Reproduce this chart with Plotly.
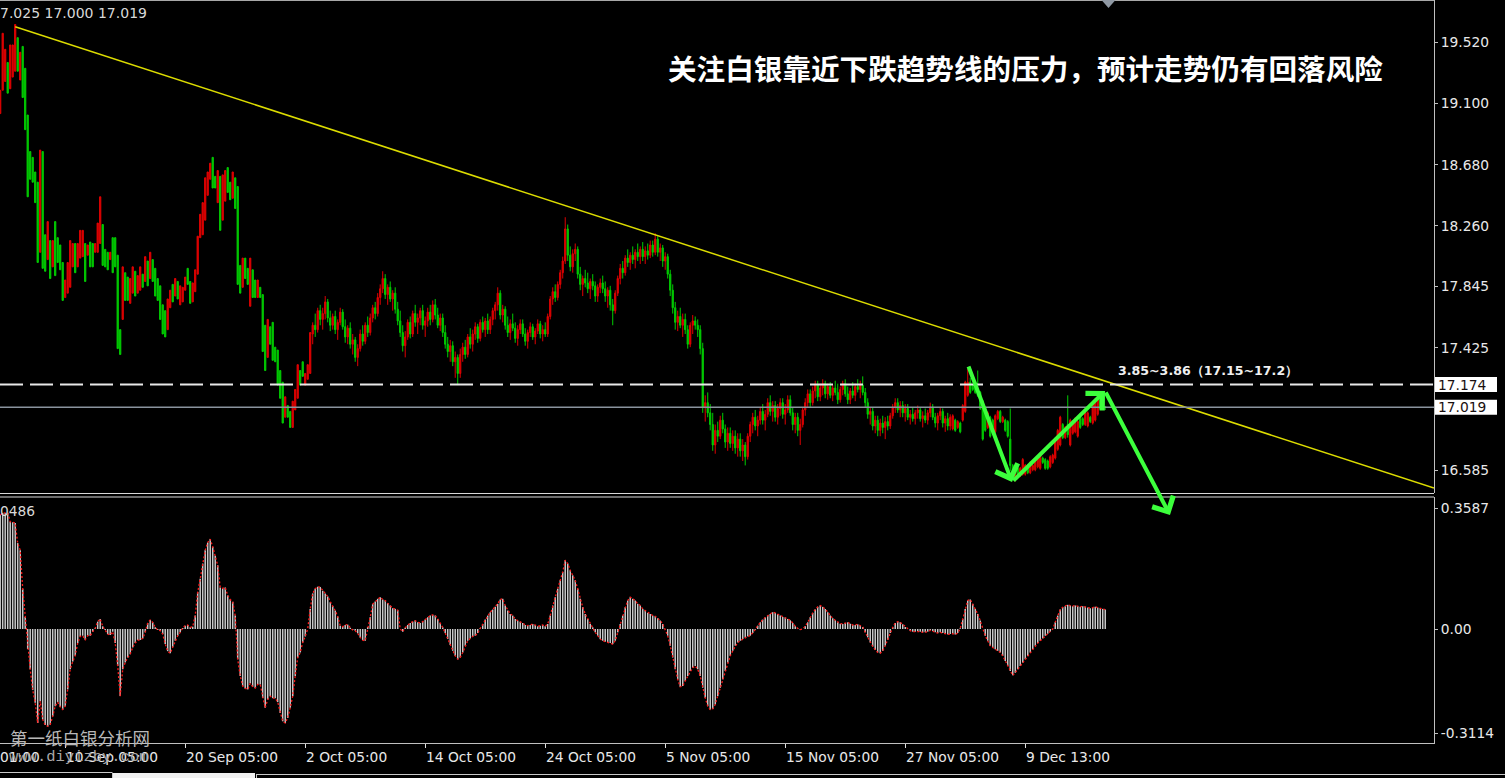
import plotly.graph_objects as go

# ---------------- data ----------------
opens = [
19.03,19.19,19.25,19.38,19.20,19.28,19.32,19.55,19.26,19.49,
19.34,19.02,18.77,18.73,18.63,18.56,18.08,18.77,18.20,18.03,
18.16,17.98,18.29,18.18,18.13,18.01,17.77,17.80,17.84,17.98,
18.14,17.98,18.04,18.05,18.14,18.06,18.15,18.14,18.08,18.08,
18.14,18.27,18.10,18.08,18.03,18.18,18.18,18.06,17.55,17.62,
17.94,17.91,17.73,17.80,17.95,17.80,17.82,17.93,17.88,18.02,
17.90,18.03,17.97,17.90,17.85,17.72,17.68,17.55,17.70,17.86,
17.78,17.88,17.72,17.74,17.82,17.97,17.88,17.74,17.81,17.93,
18.18,18.20,18.30,18.47,18.58,18.73,18.60,18.42,18.60,18.30,
18.43,18.66,18.56,18.45,18.59,18.53,17.99,17.84,18.04,17.97,
17.71,17.96,17.89,17.77,17.84,17.79,17.58,17.36,17.57,17.60,
17.43,17.41,17.27,17.19,16.95,17.03,16.99,16.88,17.00,17.08,
17.27,17.33,17.17,17.21,17.25,
17.52,17.58,17.55,17.68,17.62,17.66,17.74,17.63,17.58,17.64,
17.55,17.60,17.67,17.57,17.50,17.56,17.45,17.48,17.36,17.42,
17.52,17.47,17.58,17.53,17.63,17.70,17.66,17.77,17.83,17.90,
17.79,17.84,17.76,17.80,17.69,17.61,17.53,17.44,17.50,17.60,
17.52,17.66,17.60,17.63,17.68,17.58,17.61,17.67,17.62,17.72,
17.65,17.58,17.63,17.53,17.45,17.40,17.44,17.33,17.36,17.25,
17.38,17.43,17.38,17.50,17.45,17.52,17.57,17.49,17.60,17.55,
17.61,17.55,17.62,17.68,17.72,17.80,17.65,17.69,17.58,17.53,
17.59,17.56,17.49,17.55,17.59,17.52,17.47,17.53,17.57,17.50,
17.54,17.59,17.52,17.55,17.52,17.64,17.76,17.81,17.77,17.86,
17.94,18.02,18.24,18.06,17.98,18.07,18.10,17.93,17.86,17.90,
17.87,17.83,17.88,17.85,17.78,17.84,17.87,17.83,17.78,17.82,
17.72,17.68,17.80,17.90,17.97,17.94,18.04,18.01,18.06,18.03,
18.08,18.05,18.10,18.05,18.09,18.06,18.13,18.08,18.17,18.08,
18.11,18.02,18.05,17.93,17.82,17.70,17.60,17.64,17.58,17.62,
17.55,17.45,17.58,17.61,17.58,17.55,17.42,17.02,17.05,16.98,
16.90,16.76,16.86,16.82,16.93,16.87,16.78,16.84,16.77,16.82,
16.74,16.80,16.72,16.76,16.68,16.82,16.90,16.95,16.89,16.93,
16.99,16.93,16.97,17.05,16.99,17.03,16.95,17.01,17.05,16.97,
17.00,17.07,16.98,16.90,16.95,16.86,16.90,17.00,17.05,17.11,
17.05,17.13,17.17,17.09,17.15,17.18,17.11,17.16,17.10,17.15,
17.12,17.07,17.14,17.18,17.11,17.07,17.13,17.10,17.16,17.14,
17.17,17.12,17.05,16.97,16.99,16.89,16.93,16.86,16.91,16.88,
16.92,16.89,16.96,17.02,17.05,17.00,17.03,16.98,17.01,16.95,
16.97,16.94,16.98,17.00,16.94,16.96,16.93,16.98,17.02,16.95,
16.91,16.96,16.99,16.91,16.94,16.89,
16.87,16.93,16.88,16.91,16.93,16.99,17.10,17.19,17.17,17.18,
17.14,17.12,17.06,17.01,16.88,16.95,16.93,16.85,16.94,16.99,
16.92,16.93,16.92,16.80,16.62,16.52,16.60,16.55,16.56,16.56,
16.61,16.57,16.59,16.59,16.61,16.60,16.67,16.66,16.65,16.61,
16.64,16.67,16.73,16.76,16.90,16.81,16.90,16.76,16.84,16.85,
16.82,16.97,16.94,16.90,16.89,16.95,16.91,16.93,16.97,17.10,17.05,17.024]

highs = [
19.19,19.58,19.47,19.38,19.50,19.50,19.64,19.55,19.45,19.49,
19.34,19.02,18.77,18.73,18.63,18.56,18.78,18.77,18.20,18.29,
18.16,18.16,18.29,18.18,18.13,18.01,17.89,18.01,18.16,18.14,
18.14,18.14,18.23,18.23,18.14,18.13,18.15,18.14,18.14,18.28,
18.46,18.27,18.10,18.08,18.08,18.18,18.18,18.06,17.55,17.98,
17.94,17.91,17.90,17.98,17.95,17.92,17.98,17.93,18.05,18.02,
18.08,18.03,17.97,17.90,17.85,17.72,17.68,17.76,17.82,17.86,
17.90,17.88,17.85,17.84,17.91,17.97,17.88,17.87,17.96,18.19,
18.34,18.42,18.59,18.63,18.69,18.73,18.60,18.64,18.60,18.61,
18.64,18.66,18.56,18.63,18.59,18.53,17.99,18.04,18.04,17.97,
18.04,17.96,17.89,17.89,17.84,17.79,17.58,17.62,17.57,17.60,
17.43,17.41,17.27,17.19,17.09,17.03,16.99,17.06,17.14,17.31,
17.27,17.33,17.25,17.31,17.53,
17.60,17.66,17.70,17.72,17.70,17.78,17.76,17.68,17.66,17.68,
17.62,17.70,17.69,17.62,17.58,17.60,17.52,17.50,17.45,17.55,
17.58,17.60,17.64,17.66,17.72,17.74,17.80,17.86,17.95,17.93,
17.86,17.88,17.82,17.84,17.74,17.68,17.58,17.54,17.62,17.64,
17.68,17.72,17.66,17.70,17.72,17.64,17.70,17.72,17.75,17.76,
17.70,17.66,17.66,17.58,17.50,17.48,17.47,17.40,17.38,17.42,
17.46,17.48,17.52,17.56,17.55,17.60,17.59,17.62,17.64,17.63,
17.66,17.64,17.70,17.74,17.84,17.82,17.72,17.71,17.64,17.62,
17.66,17.60,17.58,17.62,17.62,17.56,17.55,17.60,17.59,17.56,
17.62,17.61,17.58,17.60,17.66,17.78,17.84,17.86,17.88,17.96,
18.05,18.32,18.27,18.12,18.10,18.14,18.12,17.98,17.92,17.96,
17.94,17.90,17.93,17.88,17.86,17.90,17.92,17.88,17.84,17.85,
17.76,17.82,17.92,18.00,18.02,18.06,18.10,18.08,18.12,18.10,
18.14,18.12,18.15,18.12,18.14,18.16,18.16,18.21,18.19,18.14,
18.13,18.08,18.07,17.96,17.86,17.74,17.68,17.70,17.66,17.66,
17.58,17.60,17.65,17.64,17.62,17.58,17.46,17.10,17.12,17.04,
16.98,16.90,16.92,16.96,16.98,16.90,16.88,16.88,16.86,16.86,
16.84,16.84,16.80,16.78,16.84,16.92,16.98,17.00,16.96,17.02,
17.04,17.00,17.08,17.10,17.06,17.06,17.04,17.08,17.08,17.04,
17.10,17.10,17.02,16.98,16.98,16.94,17.02,17.08,17.14,17.14,
17.16,17.20,17.20,17.18,17.21,17.20,17.18,17.19,17.17,17.20,
17.18,17.16,17.20,17.21,17.16,17.15,17.19,17.18,17.21,17.20,
17.23,17.15,17.08,17.02,17.02,16.96,16.96,16.94,16.96,16.95,
16.96,16.98,17.04,17.08,17.08,17.06,17.06,17.04,17.04,17.00,
17.02,17.00,17.03,17.02,16.99,17.01,17.00,17.05,17.04,16.98,
16.98,17.02,17.01,16.96,16.98,16.97,
16.97,16.94,16.93,16.92,17.04,17.20,17.28,17.22,17.18,17.20,
17.27,17.13,17.07,17.02,16.99,16.96,16.94,16.97,17.00,17.00,
16.96,16.94,16.93,17.01,16.63,16.61,16.61,16.61,16.67,16.63,
16.62,16.65,16.63,16.67,16.69,16.70,16.68,16.67,16.66,16.69,
16.70,16.81,16.87,16.96,16.91,16.89,17.10,16.94,16.93,16.95,
16.93,16.98,16.95,17.00,16.99,16.96,17.06,17.08,17.10,17.11,17.06,17.025]

lows = [
19.03,19.19,19.25,19.17,19.20,19.28,19.32,19.32,19.26,19.14,
18.92,18.46,18.58,18.56,18.42,18.01,18.08,17.97,17.95,18.03,
17.90,17.98,17.92,18.01,17.96,17.75,17.77,17.80,17.84,17.98,
17.94,17.98,18.04,18.05,17.88,18.06,17.98,17.98,18.08,18.08,
18.14,17.99,17.98,17.96,18.03,17.94,17.98,17.42,17.38,17.62,
17.75,17.75,17.73,17.80,17.78,17.80,17.82,17.84,17.88,17.85,
17.90,17.88,17.78,17.75,17.62,17.52,17.50,17.55,17.70,17.74,
17.78,17.76,17.72,17.74,17.82,17.86,17.73,17.74,17.81,17.93,
18.18,18.20,18.30,18.47,18.58,18.52,18.52,18.42,18.23,18.30,
18.43,18.49,18.44,18.45,18.38,17.86,17.80,17.84,17.90,17.86,
17.71,17.77,17.77,17.77,17.77,17.40,17.27,17.36,17.45,17.34,
17.33,17.17,17.08,16.91,16.95,16.95,16.88,16.88,17.00,17.08,
17.17,17.23,17.17,17.21,17.25,
17.45,17.50,17.53,17.58,17.55,17.62,17.60,17.54,17.55,17.52,
17.48,17.58,17.55,17.46,17.45,17.42,17.38,17.33,17.30,17.40,
17.44,17.45,17.50,17.51,17.60,17.62,17.64,17.72,17.80,17.76,
17.72,17.74,17.68,17.66,17.58,17.50,17.40,17.36,17.48,17.49,
17.50,17.57,17.52,17.58,17.55,17.50,17.57,17.58,17.60,17.62,
17.56,17.54,17.50,17.42,17.36,17.33,17.30,17.22,17.17,17.22,
17.33,17.35,17.36,17.42,17.40,17.48,17.46,17.47,17.53,17.50,
17.52,17.52,17.58,17.62,17.68,17.62,17.60,17.55,17.50,17.48,
17.54,17.46,17.44,17.52,17.50,17.44,17.42,17.50,17.48,17.45,
17.52,17.49,17.47,17.50,17.50,17.62,17.72,17.74,17.75,17.83,
17.90,18.00,18.02,17.95,17.94,18.02,17.90,17.82,17.78,17.84,
17.80,17.76,17.82,17.74,17.74,17.80,17.80,17.74,17.70,17.68,
17.58,17.66,17.78,17.86,17.90,17.92,17.98,17.96,18.00,17.97,
18.02,18.00,18.02,18.00,18.03,18.04,18.05,18.06,18.05,18.02,
17.98,17.96,17.90,17.78,17.66,17.55,17.54,17.56,17.50,17.52,
17.42,17.43,17.52,17.55,17.50,17.38,16.98,16.92,16.95,16.86,
16.72,16.70,16.78,16.80,16.84,16.74,16.72,16.74,16.72,16.70,
16.68,16.68,16.65,16.62,16.66,16.78,16.84,16.86,16.82,16.90,
16.90,16.86,16.95,16.96,16.92,16.92,16.90,16.96,16.94,16.90,
16.98,16.96,16.86,16.84,16.82,16.76,16.88,16.96,17.02,17.02,
17.03,17.08,17.06,17.06,17.10,17.08,17.07,17.08,17.06,17.10,
17.04,17.05,17.10,17.09,17.04,17.04,17.08,17.06,17.12,17.08,
17.10,17.02,16.94,16.90,16.86,16.84,16.82,16.82,16.84,16.80,
16.86,16.87,16.94,16.98,16.98,16.95,16.95,16.92,16.93,16.90,
16.92,16.90,16.94,16.92,16.88,16.91,16.90,16.95,16.93,16.88,
16.86,16.93,16.88,16.85,16.86,16.86,
16.86,16.85,16.87,16.84,16.92,16.98,17.09,17.11,17.13,17.11,
17.09,17.00,16.79,16.85,16.87,16.81,16.87,16.84,16.93,16.91,
16.91,16.85,16.81,16.58,16.54,16.51,16.55,16.54,16.55,16.55,
16.56,16.56,16.58,16.58,16.60,16.59,16.63,16.59,16.59,16.60,
16.63,16.66,16.72,16.75,16.80,16.80,16.81,16.75,16.83,16.84,
16.81,16.87,16.89,16.89,16.88,16.91,16.90,16.92,16.96,17.00,17.01,17.000]

closes = [
19.19,19.58,19.47,19.17,19.50,19.50,19.64,19.32,19.45,19.14,
18.92,18.46,18.58,18.56,18.42,18.01,18.78,17.97,17.95,18.29,
17.90,18.16,17.92,18.01,17.96,17.75,17.89,18.01,18.16,18.14,
17.94,18.14,18.23,18.23,17.88,18.13,17.98,17.98,18.14,18.28,
18.46,17.99,17.98,17.96,18.08,17.94,17.98,17.42,17.38,17.98,
17.75,17.75,17.90,17.98,17.78,17.92,17.98,17.84,18.05,17.85,
18.08,17.88,17.78,17.75,17.62,17.52,17.50,17.76,17.82,17.74,
17.90,17.76,17.85,17.84,17.91,17.86,17.73,17.87,17.96,18.19,
18.34,18.42,18.59,18.63,18.69,18.52,18.52,18.64,18.23,18.61,
18.64,18.49,18.44,18.63,18.38,17.86,17.80,18.04,17.90,17.86,
18.04,17.77,17.77,17.89,17.77,17.40,17.27,17.62,17.45,17.34,
17.33,17.17,17.08,16.91,17.09,16.95,16.88,17.06,17.14,17.31,
17.17,17.23,17.25,17.31,17.53,
17.58,17.55,17.68,17.62,17.66,17.74,17.63,17.58,17.64,17.55,
17.60,17.67,17.57,17.50,17.56,17.45,17.48,17.36,17.42,17.52,
17.47,17.58,17.53,17.63,17.70,17.66,17.77,17.83,17.90,17.79,
17.84,17.76,17.80,17.69,17.61,17.53,17.44,17.50,17.60,17.52,
17.66,17.60,17.63,17.68,17.58,17.61,17.67,17.62,17.72,17.65,
17.58,17.63,17.53,17.45,17.40,17.44,17.33,17.36,17.25,17.38,
17.43,17.38,17.50,17.45,17.52,17.57,17.49,17.60,17.55,17.61,
17.55,17.62,17.68,17.72,17.80,17.65,17.69,17.58,17.53,17.59,
17.56,17.49,17.55,17.59,17.52,17.47,17.53,17.57,17.50,17.54,
17.59,17.52,17.55,17.52,17.64,17.76,17.81,17.77,17.86,17.94,
18.02,18.24,18.06,17.98,18.07,18.10,17.93,17.86,17.90,17.87,
17.83,17.88,17.85,17.78,17.84,17.87,17.83,17.78,17.82,17.72,
17.68,17.80,17.90,17.97,17.94,18.04,18.01,18.06,18.03,18.08,
18.05,18.10,18.05,18.09,18.06,18.13,18.08,18.17,18.08,18.11,
18.02,18.05,17.93,17.82,17.70,17.60,17.64,17.58,17.62,17.55,
17.45,17.58,17.61,17.58,17.55,17.42,17.02,17.05,16.98,16.90,
16.76,16.86,16.82,16.93,16.87,16.78,16.84,16.77,16.82,16.74,
16.80,16.72,16.76,16.68,16.82,16.90,16.95,16.89,16.93,16.99,
16.93,16.97,17.05,16.99,17.03,16.95,17.01,17.05,16.97,17.00,
17.07,16.98,16.90,16.95,16.86,16.90,17.00,17.05,17.11,17.05,
17.13,17.17,17.09,17.15,17.18,17.11,17.16,17.10,17.15,17.12,
17.07,17.14,17.18,17.11,17.07,17.13,17.10,17.16,17.14,17.17,
17.12,17.05,16.97,16.99,16.89,16.93,16.86,16.91,16.88,16.92,
16.89,16.96,17.02,17.05,17.00,17.03,16.98,17.01,16.95,16.97,
16.94,16.98,17.00,16.94,16.96,16.93,16.98,17.02,16.95,16.91,
16.96,16.99,16.91,16.94,16.89,16.95,
16.96,16.86,16.92,16.85,17.03,17.19,17.19,17.12,17.14,17.12,
17.10,17.01,16.80,16.86,16.98,16.82,16.88,16.96,16.99,16.92,
16.95,16.86,16.82,16.62,16.55,16.60,16.56,16.60,16.66,16.62,
16.57,16.64,16.62,16.66,16.68,16.69,16.64,16.60,16.60,16.68,
16.69,16.80,16.86,16.95,16.81,16.88,16.83,16.93,16.92,16.94,
16.92,16.88,16.90,16.99,16.98,16.92,17.05,17.07,17.09,17.01,17.02,17.019]

macd = [
0.34,0.345,0.346,0.346,0.32,0.318,0.316,0.256,0.235,0.12,
0.036,-0.06,-0.12,-0.182,-0.22,-0.28,-0.215,-0.27,-0.286,-0.29,
-0.285,-0.26,-0.23,-0.218,-0.232,-0.24,-0.23,-0.18,-0.12,-0.097,
-0.08,-0.042,-0.022,-0.02,-0.032,-0.02,-0.02,-0.008,0.002,0.022,
0.03,0.008,-0.003,-0.015,-0.018,-0.008,-0.042,-0.11,-0.2,-0.12,
-0.1,-0.085,-0.075,-0.055,-0.042,-0.033,-0.033,-0.028,-0.01,0.018,
0.027,0.02,0.005,-0.003,-0.005,-0.015,-0.045,-0.066,-0.072,-0.053,
-0.035,-0.02,-0.01,0.003,0.01,0.012,0.005,0.007,0.04,0.11,
0.15,0.195,0.235,0.258,0.268,0.245,0.218,0.19,0.124,0.121,
0.124,0.1,0.088,0.081,0.04,-0.09,-0.14,-0.17,-0.177,-0.18,
-0.162,-0.172,-0.176,-0.165,-0.165,-0.205,-0.235,-0.21,-0.2,-0.206,
-0.206,-0.218,-0.25,-0.275,-0.28,-0.265,-0.235,-0.2,-0.14,-0.085,
-0.07,-0.04,-0.022,0.0,0.06,0.106,0.12,0.126,0.125,0.114,
0.106,0.097,0.08,0.068,0.055,0.037,0.01,0.007,0.012,0.013,
0.004,-0.003,-0.005,-0.013,-0.025,-0.033,-0.035,0.006,0.035,0.074,
0.082,0.09,0.095,0.088,0.085,0.077,0.07,0.062,0.06,0.056,
0.0,
-0.008,0.004,0.012,0.018,0.022,0.025,0.02,0.018,0.022,0.028,
0.035,0.04,0.042,0.04,0.03,0.018,0.005,-0.012,-0.03,-0.048,
-0.065,-0.08,-0.09,-0.085,-0.07,-0.05,-0.035,-0.028,-0.022,-0.02,
-0.012,0.002,0.015,0.028,0.04,0.05,0.058,0.066,0.075,0.088,
0.09,0.07,0.055,0.045,0.04,0.03,0.025,0.022,0.018,0.012,
0.01,0.012,0.015,0.012,0.008,0.01,0.012,0.008,0.015,0.04,
0.07,0.095,0.12,0.145,0.17,0.205,0.195,0.175,0.16,0.145,
0.12,0.09,0.065,0.045,0.03,0.015,0.005,-0.01,-0.02,-0.03,
-0.035,-0.038,-0.04,-0.042,-0.045,-0.035,-0.01,0.015,0.04,0.065,
0.085,0.095,0.09,0.085,0.075,0.07,0.06,0.055,0.048,0.045,
0.04,0.038,0.032,0.025,0.015,0.0,-0.02,-0.05,-0.085,-0.12,
-0.15,-0.172,-0.17,-0.155,-0.14,-0.125,-0.115,-0.11,-0.12,-0.14,
-0.175,-0.205,-0.23,-0.24,-0.238,-0.225,-0.2,-0.175,-0.15,-0.125,
-0.1,-0.08,-0.065,-0.05,-0.04,-0.035,-0.03,-0.025,-0.022,-0.02,
-0.012,-0.002,0.01,0.02,0.028,0.034,0.04,0.045,0.05,0.048,
0.044,0.04,0.036,0.034,0.03,0.026,0.018,0.008,0.002,-0.002,
0.0,0.008,0.02,0.035,0.048,0.058,0.066,0.07,0.066,0.06,
0.05,0.04,0.032,0.026,0.02,0.016,0.015,0.018,0.02,0.016,
0.012,0.012,0.014,0.01,0.006,-0.01,-0.025,-0.04,-0.052,-0.062,
-0.07,-0.072,-0.065,-0.05,-0.032,-0.012,0.005,0.018,0.022,0.02,
0.014,0.006,0.0,-0.005,-0.008,-0.008,-0.006,-0.008,-0.01,-0.01,
-0.008,-0.004,-0.006,-0.01,-0.012,-0.01,-0.012,-0.015,-0.016,-0.015,
-0.014,-0.016,-0.012,0.002,0.03,0.06,0.085,0.088,0.075,0.06,
0.045,0.025,0.0,-0.02,-0.035,-0.05,-0.055,-0.06,-0.065,-0.07,
-0.08,-0.095,-0.11,-0.125,-0.138,-0.13,-0.12,-0.11,-0.1,-0.09,
-0.08,-0.07,-0.06,-0.05,-0.042,-0.035,-0.028,-0.02,-0.014,-0.008,
0.0,0.02,0.04,0.058,0.065,0.068,0.072,0.07,0.068,0.07,
0.068,0.066,0.068,0.066,0.064,0.062,0.064,0.066,0.064,0.062,0.06,0.058]

tick_idx = [26, 74, 122, 170, 218, 266, 314, 362, 410]
tick_text = ["10 Sep 05:00", "20 Sep 05:00", "2 Oct 05:00", "14 Oct 05:00", "24 Oct 05:00",
             "5 Nov 05:00", "15 Nov 05:00", "27 Nov 05:00", "9 Dec 13:00"]
first_label = "01:00"

price_ticks = [19.520, 19.100, 18.680, 18.260, 17.845, 17.425, 16.585]
macd_ticks = [0.3587, 0.0, -0.3114]
macd_tick_text = ["0.3587", "0.00", "-0.3114"]

trend_x = [6, 573.5]
trend_y = [19.625, 16.465]

level_dashed = 17.174
level_last = 17.019

arrow_from_x = [387.1, 404.7, 441.9]
arrow_from_y = [17.308, 16.506, 17.130]
arrow_to_x = [404.7, 441.9, 467.9]
arrow_to_y = [16.506, 17.130, 16.280]

title_text = "关注白银靠近下跌趋势线的压力，预计走势仍有回落风险"
level_note = "3.85~3.86（17.15~17.2）"
ohlc_text = "7.025 17.000 17.019"
macd_text = "0486"
watermark_cn = "第一纸白银分析网"
watermark_url = "www.diyizby.com"

# ---------------- geometry ----------------
W, H = 1505, 778
PW, PH = 1434, 743          # plot area (margin l=0, t=0)
PRICE_BOTTOM = 493
MACD_TOP = 497

def fx(px):
    return px / PW

def fy(py):
    return (PH - py) / PH

n = min(len(opens), len(highs), len(lows), len(closes), len(macd))
idx = list(range(n))

AX_FONT = dict(family="DejaVu Sans", size=13.8, color="#e8e8e8")
GRID_C = "#c0c0c0"

fig = go.Figure()

fig.add_trace(go.Candlestick(
    x=idx, open=opens[:n], high=highs[:n], low=lows[:n], close=closes[:n],
    increasing=dict(line=dict(color="#e00000", width=1), fillcolor="#e00000"),
    decreasing=dict(line=dict(color="#00cc00", width=1), fillcolor="#00cc00"),
    whiskerwidth=0, hoverinfo="skip", xaxis="x", yaxis="y"))

fig.add_trace(go.Scatter(x=trend_x, y=trend_y, mode="lines",
                         line=dict(color="#dcdc00", width=1.5),
                         hoverinfo="skip", xaxis="x", yaxis="y"))

fig.add_trace(go.Bar(x=idx, y=macd[:n], marker=dict(color="#c8c8c8", line=dict(width=0)),
                     hoverinfo="skip", xaxis="x", yaxis="y2"))
fig.add_trace(go.Scatter(x=idx, y=macd[:n], mode="lines",
                         line=dict(color="#ff1a1a", width=1.3, dash="2px,2px"),
                         hoverinfo="skip", xaxis="x", yaxis="y2"))

shapes = []
shapes.append(dict(type="line", xref="paper", yref="y", x0=0, x1=1, y0=level_dashed, y1=level_dashed,
                   line=dict(color="#e8e8e8", width=2, dash="23px,7px")))
shapes.append(dict(type="line", xref="paper", yref="y", x0=0, x1=1, y0=level_last, y1=level_last,
                   line=dict(color="#8a939e", width=1.5)))
for lv in (level_dashed, level_last):
    shapes.append(dict(type="rect", xref="paper", yref="y", x0=fx(1435), x1=fx(1497),
                       y0=lv - 7.5 / 146, y1=lv + 7.5 / 146,
                       fillcolor="#ffffff", line=dict(width=0)))
shapes.append(dict(type="line", xref="paper", yref="paper", x0=0, x1=1, y0=fy(0.5), y1=fy(0.5),
                   line=dict(color="#a8a8a8", width=1)))
shapes.append(dict(type="line", xref="paper", yref="paper", x0=0, x1=1, y0=fy(PRICE_BOTTOM + 0.5), y1=fy(PRICE_BOTTOM + 0.5),
                   line=dict(color="#d8d8d8", width=1)))
shapes.append(dict(type="line", xref="paper", yref="paper", x0=0, x1=1, y0=fy(MACD_TOP), y1=fy(MACD_TOP),
                   line=dict(color="#d8d8d8", width=1)))
shapes.append(dict(type="path", xref="paper", yref="paper",
                   path="M %f,%f L %f,%f L %f,%f Z" % (fx(1101.5), fy(0), fx(1115.5), fy(0), fx(1108.5), fy(8)),
                   fillcolor="#8f98a3", line=dict(width=0)))
shapes.append(dict(type="line", xref="paper", yref="paper", x0=0, x1=fx(112), y0=fy(772.5), y1=fy(772.5),
                   line=dict(color="#c8c8c8", width=1)))
shapes.append(dict(type="rect", xref="paper", yref="paper", x0=fx(113), x1=fx(255), y0=fy(778), y1=fy(773),
                   fillcolor="#f0f0f0", line=dict(width=0)))
shapes.append(dict(type="line", xref="paper", yref="paper", x0=fx(256), x1=W / PW, y0=fy(774.5), y1=fy(774.5),
                   line=dict(color="#c8c8c8", width=1)))
shapes.append(dict(type="line", xref="paper", yref="paper", x0=fx(256.5), x1=fx(256.5), y0=fy(774.5), y1=fy(778),
                   line=dict(color="#c8c8c8", width=1)))
shapes.append(dict(type="line", xref="paper", yref="paper", x0=fx(112.5), x1=fx(112.5), y0=fy(772.5), y1=fy(778),
                   line=dict(color="#c8c8c8", width=1)))

ann = []
for k, t in zip(tick_idx, tick_text):
    ann.append(dict(x=k, xref="x", y=fy(757), yref="paper", text=t, showarrow=False,
                    xanchor="left", yanchor="middle", xshift=-1, font=AX_FONT))
ann.append(dict(x=0, xref="paper", y=fy(757), yref="paper", text=first_label, showarrow=False,
                xanchor="left", yanchor="middle", xshift=-2, font=AX_FONT))
ann.append(dict(x=fx(8), xref="paper", y=fy(737), yref="paper", text=watermark_cn, showarrow=False,
                xanchor="left", yanchor="middle",
                font=dict(family="Noto Sans CJK SC", size=17.5, color="#b8b8b8")))
ann.append(dict(x=fx(7), xref="paper", y=fy(757), yref="paper", text=watermark_url, showarrow=False,
                xanchor="left", yanchor="middle",
                font=dict(family="Liberation Mono", size=15.5, color="#a8a8a8")))
for lv in (level_dashed, level_last):
    ann.append(dict(x=fx(1436), xref="paper", y=lv, yref="y", text="%.3f" % lv, showarrow=False,
                    xanchor="left", yanchor="middle",
                    font=dict(family="DejaVu Sans", size=13.8, color="#1a1010")))
ann.append(dict(x=0, xref="paper", y=fy(13), yref="paper", text=ohlc_text, showarrow=False,
                xanchor="left", yanchor="middle", xshift=-2,
                font=dict(family="DejaVu Sans", size=14, color="#d8d8d8")))
ann.append(dict(x=0, xref="paper", y=fy(511), yref="paper", text=macd_text, showarrow=False,
                xanchor="left", yanchor="middle", xshift=-2,
                font=dict(family="DejaVu Sans", size=13.8, color="#d8d8d8")))
ann.append(dict(x=fx(666), xref="paper", y=fy(68), yref="paper", text="<b>%s</b>" % title_text, showarrow=False,
                xanchor="left", yanchor="middle",
                font=dict(family="Noto Sans CJK SC", size=28.6, color="#ffffff")))
ann.append(dict(x=fx(1116), xref="paper", y=fy(370), yref="paper", text="<b>%s</b>" % level_note, showarrow=False,
                xanchor="left", yanchor="middle",
                font=dict(family="DejaVu Sans", size=12.6, color="#f0f0f0")))
for x0, y0, x1, y1 in zip(arrow_from_x, arrow_from_y, arrow_to_x, arrow_to_y):
    ann.append(dict(x=x1, y=y1, xref="x", yref="y", ax=x0, ay=y0, axref="x", ayref="y",
                    text="", showarrow=True, arrowhead=4, arrowsize=1.15, arrowwidth=4,
                    arrowcolor="#3cff3c", standoff=0))

fig.update_layout(
    width=W, height=H, margin=dict(l=0, r=W - PW, t=0, b=H - PH, pad=0),
    paper_bgcolor="#000000", plot_bgcolor="#000000", showlegend=False,
    hovermode=False, bargap=0.4,
    xaxis=dict(domain=[0, 1], anchor="y2", range=[-0.08, 573.5], showgrid=False, zeroline=False,
               showline=True, linecolor=GRID_C, linewidth=1, ticks="outside", ticklen=4,
               tickcolor="#e0e0e0", tickvals=tick_idx, showticklabels=False,
               rangeslider=dict(visible=False), fixedrange=True),
    yaxis=dict(domain=[fy(PRICE_BOTTOM), 1], range=[16.431, 19.808], side="right", anchor="x",
               showgrid=False, zeroline=False, showline=True, linecolor=GRID_C, linewidth=1,
               ticks="outside", ticklen=3, tickcolor=GRID_C,
               tickvals=price_ticks, ticktext=["%.3f" % v for v in price_ticks],
               tickfont=AX_FONT, fixedrange=True),
    yaxis2=dict(domain=[0, fy(MACD_TOP)], range=[-0.3397, 0.3934], side="right", anchor="x",
                showgrid=False, zeroline=False, showline=True, linecolor=GRID_C, linewidth=1,
                ticks="outside", ticklen=3, tickcolor=GRID_C,
                tickvals=macd_ticks, ticktext=macd_tick_text, tickfont=AX_FONT, fixedrange=True),
    shapes=shapes, annotations=ann,
)

fig.write_html("out.html", config={"displayModeBar": False, "staticPlot": True},
               post_script="document.body.style.margin='0px';document.body.style.overflow='hidden';")
